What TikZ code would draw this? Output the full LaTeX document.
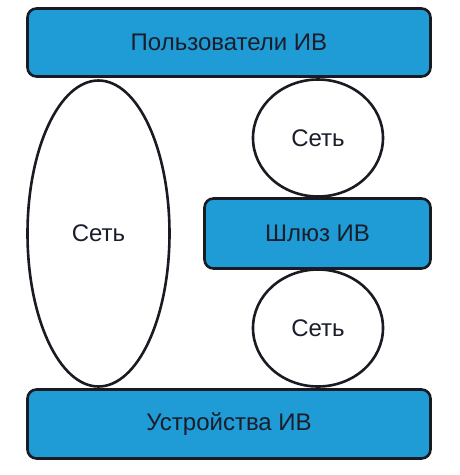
\documentclass[tikz,border=0pt]{standalone}
\usepackage{fontspec}
\setmainfont{Liberation Sans}
\usetikzlibrary{shapes.geometric}
\definecolor{ink}{HTML}{1B1E2A}
\definecolor{edge}{HTML}{1A1A22}
\definecolor{ivblue}{HTML}{1F9BD6}
\tikzset{
  base/.style={align=center, inner sep=0pt, font=\fontsize{24}{28}\selectfont, text=ink, line width=2.6pt, draw=edge},
  bar/.style={base, rectangle, rounded corners=9pt, fill=ivblue},
  net/.style={base, ellipse, fill=white},
}

\begin{document}
\begin{tikzpicture}[x=1pt, y=-1pt]
    \useasboundingbox (0,0) rectangle (459,475);
    \node[bar, minimum width=403pt, minimum height=68pt] (users) at (229,42.5) {Пользователи ИВ};
    \node[net, minimum width=142pt, minimum height=306pt] (netl) at (98.5,233.5) {Сеть};
    \node[net, minimum width=130pt, minimum height=117pt] (nett) at (318,138) {Сеть};
    \node[net, minimum width=130pt, minimum height=117pt] (netb) at (318,328) {Сеть};
    \node[bar, minimum width=226pt, minimum height=70pt] (gate) at (317.5,233.5) {Шлюз ИВ};
    \node[bar, minimum width=403pt, minimum height=69pt] (devs) at (229,424) {Устройства ИВ};
  \end{tikzpicture}
\end{document}
